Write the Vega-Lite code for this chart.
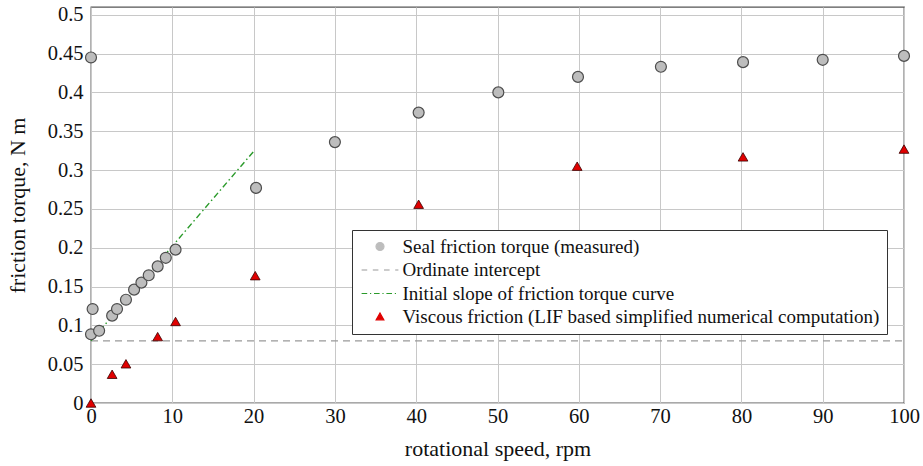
{
  "$schema": "https://vega.github.io/schema/vega-lite/v6.json",
  "width": 813,
  "height": 396,
  "autosize": "none",
  "padding": {"left": 91, "top": 7, "right": 19, "bottom": 63},
  "background": "white",
  "config": {
    "font": "Liberation Serif",
    "view": {"stroke": "#555", "strokeWidth": 1.3},
    "axis": {
      "labelFontSize": 20.5,
      "titleFontSize": 22,
      "labelFont": "Liberation Serif",
      "titleFont": "Liberation Serif",
      "labelColor": "#111",
      "titleColor": "#111",
      "titleFontWeight": "normal",
      "gridColor": "#c8c8c8",
      "gridWidth": 1,
      "domain": false,
      "ticks": false,
      "labelFlush": false
    }
  },
  "datasets": {
    "pts": [
      {"series": "Seal friction torque (measured)", "x": 0, "y": 0.445},
      {"series": "Seal friction torque (measured)", "x": 0, "y": 0.0885},
      {"series": "Seal friction torque (measured)", "x": 0.2, "y": 0.121},
      {"series": "Seal friction torque (measured)", "x": 1.0, "y": 0.093},
      {"series": "Seal friction torque (measured)", "x": 2.6, "y": 0.1125},
      {"series": "Seal friction torque (measured)", "x": 3.2, "y": 0.121},
      {"series": "Seal friction torque (measured)", "x": 4.3, "y": 0.133},
      {"series": "Seal friction torque (measured)", "x": 5.3, "y": 0.146},
      {"series": "Seal friction torque (measured)", "x": 6.2, "y": 0.155},
      {"series": "Seal friction torque (measured)", "x": 7.1, "y": 0.1645},
      {"series": "Seal friction torque (measured)", "x": 8.2, "y": 0.176},
      {"series": "Seal friction torque (measured)", "x": 9.2, "y": 0.187},
      {"series": "Seal friction torque (measured)", "x": 10.4, "y": 0.1975},
      {"series": "Seal friction torque (measured)", "x": 20.3, "y": 0.277},
      {"series": "Seal friction torque (measured)", "x": 30.0, "y": 0.336},
      {"series": "Seal friction torque (measured)", "x": 40.3, "y": 0.374},
      {"series": "Seal friction torque (measured)", "x": 50.1, "y": 0.4},
      {"series": "Seal friction torque (measured)", "x": 59.9, "y": 0.42},
      {"series": "Seal friction torque (measured)", "x": 70.1, "y": 0.433},
      {"series": "Seal friction torque (measured)", "x": 80.2, "y": 0.439},
      {"series": "Seal friction torque (measured)", "x": 90.0, "y": 0.442},
      {"series": "Seal friction torque (measured)", "x": 100, "y": 0.447}
    ],
    "tri": [
      {"series": "Viscous friction (LIF based simplified numerical computation)", "x": 0, "y": 0.0},
      {"series": "Viscous friction (LIF based simplified numerical computation)", "x": 2.6, "y": 0.037},
      {"series": "Viscous friction (LIF based simplified numerical computation)", "x": 4.3, "y": 0.0505},
      {"series": "Viscous friction (LIF based simplified numerical computation)", "x": 8.2, "y": 0.0855},
      {"series": "Viscous friction (LIF based simplified numerical computation)", "x": 10.4, "y": 0.105},
      {"series": "Viscous friction (LIF based simplified numerical computation)", "x": 20.2, "y": 0.164},
      {"series": "Viscous friction (LIF based simplified numerical computation)", "x": 40.3, "y": 0.256},
      {"series": "Viscous friction (LIF based simplified numerical computation)", "x": 59.8, "y": 0.305},
      {"series": "Viscous friction (LIF based simplified numerical computation)", "x": 80.2, "y": 0.317},
      {"series": "Viscous friction (LIF based simplified numerical computation)", "x": 100, "y": 0.327}
    ],
    "intercept": [
      {"series": "Ordinate intercept", "x": 0, "y": 0.08},
      {"series": "Ordinate intercept", "x": 100, "y": 0.08}
    ],
    "slope": [
      {"series": "Initial slope of friction torque curve", "x": 0, "y": 0.08},
      {"series": "Initial slope of friction torque curve", "x": 20, "y": 0.324}
    ]
  },
  "encoding": {
    "x": {
      "field": "x", "type": "quantitative",
      "scale": {"domain": [0, 100], "nice": false},
      "axis": {"values": [0,10,20,30,40,50,60,70,80,90,100], "title": "rotational speed, rpm", "labelPadding": 3, "titlePadding": 12}
    },
    "y": {
      "field": "y", "type": "quantitative",
      "scale": {"domain": [0, 0.51], "nice": false},
      "axis": {"values": [0,0.05,0.1,0.15,0.2,0.25,0.3,0.35,0.4,0.45,0.5], "format": ".2~f", "title": "friction torque, N m", "labelPadding": 8, "titlePadding": 18}
    },
    "color": {
      "field": "series", "type": "nominal",
      "scale": {
        "domain": ["Seal friction torque (measured)", "Ordinate intercept", "Initial slope of friction torque curve", "Viscous friction (LIF based simplified numerical computation)"],
        "range": ["#bdbdbd", "#999999", "#2a9a2a", "#e00000"]
      },
      "legend": {
        "title": null,
        "orient": "none",
        "legendX": 261,
        "legendY": 223,
        "direction": "vertical",
        "fillColor": "white",
        "strokeColor": "#333",
        "padding": 7,
        "labelFontSize": 19,
        "labelFont": "Liberation Serif",
        "labelColor": "#111",
        "labelLimit": 700,
        "rowPadding": 3.5,
        "symbolSize": 256,
        "symbolOffset": 11.5,
        "symbolStrokeWidth": 1.2,
        "labelOffset": 13,
        "encode": {
          "symbols": {
            "update": {
              "shape": {"signal": "datum.index == 0 ? 'M0.5,0A0.5,0.5,0,1,1,-0.5,0A0.5,0.5,0,1,1,0.5,0Z' : datum.index == 3 ? 'M0,-0.5L0.48,0.35L-0.48,0.35Z' : datum.index == 1 ? 'M-2.3,0H-1.6M-0.9,0H-0.2M0.5,0H1.2M1.9,0H2.3' : 'M-2.3,0H-1.6M-1.25,0H-1.1M-0.75,0H-0.05M0.3,0H0.45M0.8,0H1.5M1.85,0H2.0'"},
              "fill": {"signal": "datum.index == 0 ? '#bdbdbd' : datum.index == 3 ? '#e00000' : 'transparent'"},
              "stroke": {"signal": "datum.index == 0 ? '#555555' : datum.index == 3 ? '#400000' : datum.index == 1 ? '#999999' : '#2a9a2a'"},
              "strokeWidth": {"value": 1.2},
              "opacity": {"value": 1}
            }
          }
        }
      }
    }
  },
  "layer": [
    {
      "data": {"name": "intercept"},
      "mark": {"type": "line", "strokeDash": [7, 5], "strokeWidth": 1.4}
    },
    {
      "data": {"name": "slope"},
      "mark": {"type": "line", "strokeDash": [6, 3, 1.5, 3], "strokeWidth": 1.4}
    },
    {
      "data": {"name": "pts"},
      "mark": {"type": "point", "shape": "circle", "filled": true, "size": 120, "stroke": "#4d4d4d", "strokeWidth": 1.2, "opacity": 1}
    },
    {
      "data": {"name": "tri"},
      "mark": {"type": "point", "shape": "triangle-up", "filled": true, "size": 95, "stroke": "#3a0000", "strokeWidth": 0.8, "opacity": 1}
    }
  ]
}
